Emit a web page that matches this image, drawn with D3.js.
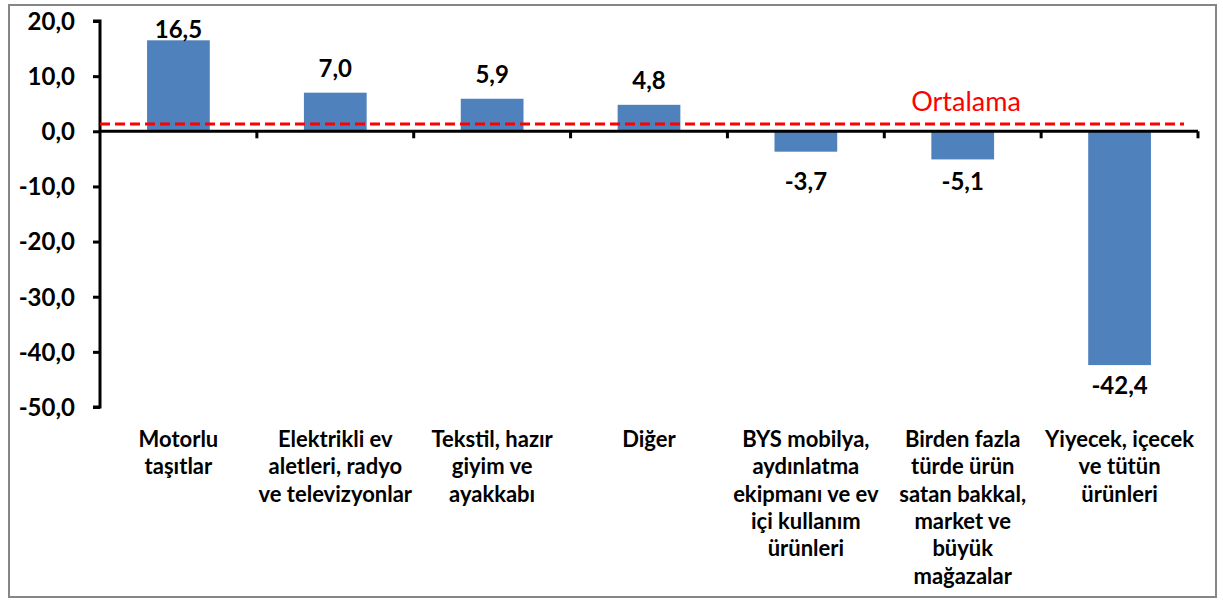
<!DOCTYPE html>
<html>
<head>
<meta charset="utf-8">
<script src="https://cdn.jsdelivr.net/npm/d3@7"></script>
<style>
  html, body { margin: 0; padding: 0; background: #fff; }
  svg { display: block; }
</style>
</head>
<body>
<svg id="chart" width="1223" height="606"></svg>
<script>
// ---- data ----
const categories = [
  "Motorlu taşıtlar",
  "Elektrikli ev aletleri, radyo ve televizyonlar",
  "Tekstil, hazır giyim ve ayakkabı",
  "Diğer",
  "BYS mobilya, aydınlatma ekipmanı ve ev içi kullanım ürünleri",
  "Birden fazla türde ürün satan bakkal, market ve büyük mağazalar",
  "Yiyecek, içecek ve tütün ürünleri"
];
const categoryLines = [
  ["Motorlu", "taşıtlar"],
  ["Elektrikli ev", "aletleri, radyo", "ve televizyonlar"],
  ["Tekstil, hazır", "giyim ve", "ayakkabı"],
  ["Diğer"],
  ["BYS mobilya,", "aydınlatma", "ekipmanı ve ev", "içi kullanım", "ürünleri"],
  ["Birden fazla", "türde ürün", "satan bakkal,", "market ve", "büyük", "mağazalar"],
  ["Yiyecek, içecek", "ve tütün", "ürünleri"]
];
const values = [16.5, 7.0, 5.9, 4.8, -3.7, -5.1, -42.4];
const averageValue = 1.3;
const averageLabel = "Ortalama";
const yTicks = [20, 10, 0, -10, -20, -30, -40, -50];

// ---- layout ----
const svg = d3.select("#chart");
const mLeft = 100, mRight = 1198, mTop = 21, mBottom = 407;
const font = "Lato, 'Open Sans', sans-serif";

svg.append("rect")
  .attr("x", 9).attr("y", 5).attr("width", 1207).attr("height", 592)
  .attr("fill", "#fff").attr("stroke", "#868686").attr("stroke-width", 2);

const x = d3.scaleBand().domain(categories).range([mLeft, mRight]).paddingInner(0.6).paddingOuter(0.3);
const xb = d3.scaleBand().domain(categories).range([mLeft, mRight]).padding(0);
const y = d3.scaleLinear().domain([-50, 20]).range([mBottom, mTop]);
const fmt = v => d3.format(".1f")(v).replace(".", ",").replace("−", "-");

// bars
svg.append("g").selectAll("rect").data(values).join("rect")
  .attr("x", (d, i) => x(categories[i]))
  .attr("width", x.bandwidth())
  .attr("y", d => y(Math.max(0, d)))
  .attr("height", d => Math.abs(y(d) - y(0)))
  .attr("fill", "#4F81BD");

// y axis
const yAxis = d3.axisLeft(y).tickValues(yTicks).tickSize(7).tickFormat(fmt);
const gy = svg.append("g").attr("transform", `translate(${mLeft},0)`).call(yAxis);
gy.select(".domain").attr("stroke", "#000").attr("stroke-width", 3)
  .attr("d", `M-7,${y(20)}H0V${y(-50)}H-7`);
gy.selectAll(".tick line").attr("stroke", "#000").attr("stroke-width", 3);
gy.selectAll(".tick text")
  .attr("x", -25).attr("dy", "0.35em")
  .attr("font-family", font).attr("font-weight", "bold").attr("font-size", 24)
  .attr("fill", "#000");

// x axis at zero
const xAxis = d3.axisBottom(xb).tickSize(0).tickFormat("");
const gx = svg.append("g").attr("transform", `translate(0,${y(0)})`).call(xAxis);
gx.select(".domain").attr("stroke", "#000").attr("stroke-width", 3).attr("d", `M${mLeft},0H${mRight}`);
gx.selectAll(".tick").remove();
const boundaries = categories.map(c => xb(c) + xb.bandwidth());
svg.append("g").selectAll("line").data(boundaries).join("line")
  .attr("x1", d => d).attr("x2", d => d)
  .attr("y1", y(0)).attr("y2", y(0) + 7)
  .attr("stroke", "#000").attr("stroke-width", 3);

// average dashed line
svg.append("line")
  .attr("x1", mLeft).attr("x2", 1184)
  .attr("y1", y(averageValue)).attr("y2", y(averageValue))
  .attr("stroke", "#FF0000").attr("stroke-width", 3)
  .attr("stroke-dasharray", "10,5");
svg.append("text")
  .attr("x", 966).attr("y", y(averageValue) - 13)
  .attr("text-anchor", "middle")
  .attr("font-family", font).attr("font-size", 27)
  .attr("fill", "#FF0000")
  .text(averageLabel);

// value labels
svg.append("g").selectAll("text").data(values).join("text")
  .attr("x", (d, i) => x(categories[i]) + x.bandwidth() / 2)
  .attr("y", d => d >= 0 ? Math.max(y(d) - 16, 38) : Math.max(y(d) + 29, 190))
  .attr("text-anchor", "middle")
  .attr("font-family", font).attr("font-weight", "bold").attr("font-size", 24)
  .attr("fill", "#000")
  .text(d => fmt(d));

// category labels
const cg = svg.append("g");
categoryLines.forEach((lines, i) => {
  const cx = xb(categories[i]) + xb.bandwidth() / 2;
  const t = cg.append("text")
    .attr("text-anchor", "middle")
    .attr("font-family", font).attr("font-weight", "bold").attr("font-size", 22)
    .attr("fill", "#000");
  lines.forEach((ln, j) => {
    t.append("tspan").attr("x", cx).attr("y", 447 + j * 27.3).text(ln);
  });
});
</script>
</body>
</html>
